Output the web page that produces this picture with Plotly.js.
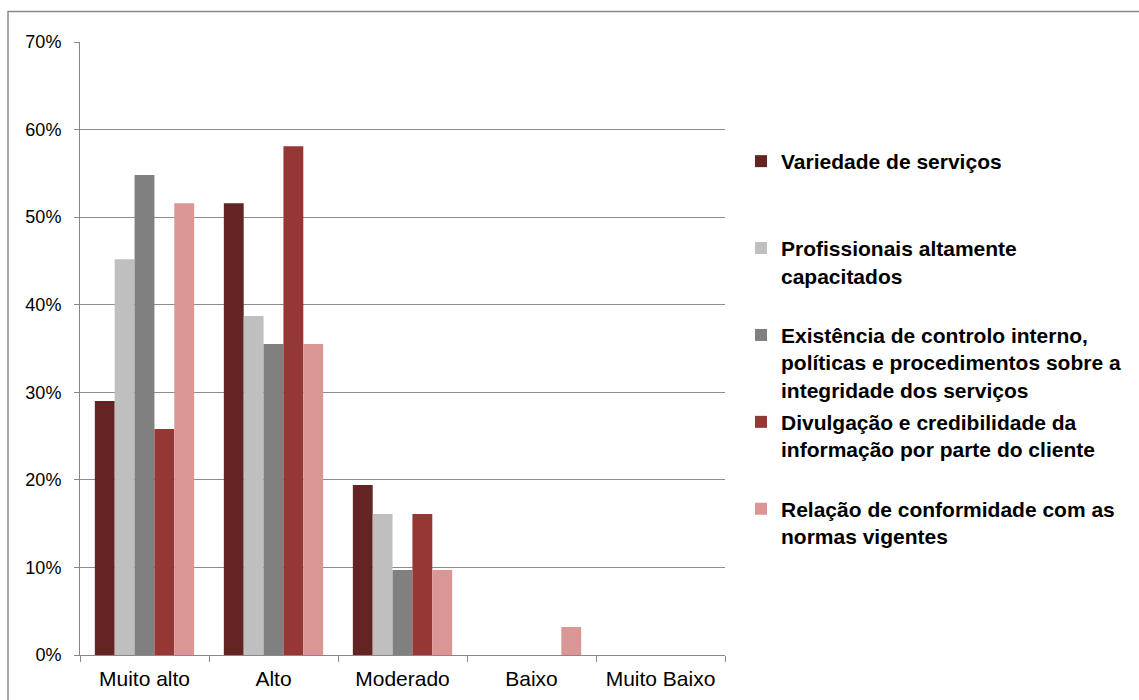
<!DOCTYPE html>
<html>
<head>
<meta charset="utf-8">
<script src="https://cdn.plot.ly/plotly-3.0.1.min.js"></script>
<style>
  html, body { margin: 0; padding: 0; background: #ffffff; }
  #chart { width: 1139px; height: 700px; }
</style>
</head>
<body>
<div id="chart"></div>
<script>
// Nível de importância atribuído a cada fator (percentagem de respostas)
const categories = ['Muito alto', 'Alto', 'Moderado', 'Baixo', 'Muito Baixo'];

const seriesNames = [
  'Variedade de serviços',
  'Profissionais altamente<br>capacitados',
  'Existência de controlo interno,<br>políticas e procedimentos sobre a<br>integridade dos serviços',
  'Divulgação e credibilidade da<br>informação por parte do cliente',
  'Relação de conformidade com as<br>normas vigentes'
];

const variedadeServicos      = [29.0, 51.6, 19.4, 0, 0];
const profissionaisCapacit   = [45.2, 38.7, 16.1, 0, 0];
const controloInterno        = [54.8, 35.5, 9.7, 0, 0];
const divulgacaoInformacao   = [25.8, 58.1, 16.1, 0, 0];
const conformidadeNormas     = [51.6, 35.5, 9.7, 3.2, 0];

const seriesValues = [variedadeServicos, profissionaisCapacit, controloInterno,
                      divulgacaoInformacao, conformidadeNormas];
const seriesColors = ['#632523', '#BFBFBF', '#808080', '#953735', '#D99694'];

const yTicks = [0, 10, 20, 30, 40, 50, 60, 70];

// pad every legend label to three lines so the entries sit at an even pitch
function padLines(label, n) {
  const count = label.split('<br>').length;
  let out = label;
  for (let i = count; i < n; i++) out += '<br> ';
  return out;
}

const traces = seriesValues.map((vals, i) => ({
  type: 'bar',
  x: categories,
  y: vals,
  name: padLines(seriesNames[i], 3),
  legendgroup: 'g' + i,
  marker: { color: seriesColors[i], line: { width: 0 } },
  hoverinfo: 'skip'
}));

const plotLeft = 80, plotRight = 725, plotTop = 42, plotBottom = 655;
const pw = plotRight - plotLeft, ph = plotBottom - plotTop;
const px = v => (v - plotLeft) / pw;
const py = v => (plotBottom - v) / ph;

const layout = {
  width: 1139,
  height: 700,
  margin: { l: plotLeft, r: 1139 - plotRight, t: plotTop, b: 700 - plotBottom, autoexpand: false },
  paper_bgcolor: '#ffffff',
  plot_bgcolor: '#ffffff',
  barmode: 'group',
  bargap: 0.23,
  bargroupgap: 0,
  font: { family: 'Liberation Sans, Arial, sans-serif', color: '#000000' },
  xaxis: {
    type: 'category',
    showline: true,
    linecolor: '#888888',
    linewidth: 1,
    ticks: 'outside',
    tickson: 'boundaries',
    ticklen: 6,
    tickcolor: '#888888',
    tickfont: { size: 21, family: 'Liberation Sans, Arial, sans-serif' },
    ticklabelstandoff: 5,
    showgrid: false,
    fixedrange: true
  },
  yaxis: {
    range: [0, 70],
    tickvals: yTicks,
    ticktext: yTicks.map(v => v + '%'),
    showline: true,
    linecolor: '#888888',
    linewidth: 1,
    ticks: 'outside',
    ticklen: 5,
    tickcolor: '#888888',
    showgrid: true,
    gridcolor: '#8c8c8c',
    gridwidth: 1,
    zeroline: false,
    tickfont: { size: 18, family: 'Liberation Sans, Arial, sans-serif' },
    ticklabelstandoff: 9,
    fixedrange: true
  },
  legend: {
    x: px(741),
    y: py(141),
    xanchor: 'left',
    yanchor: 'top',
    traceorder: 'grouped',
    tracegroupgap: 2,
    valign: 'top',
    bgcolor: 'rgba(0,0,0,0)',
    borderwidth: 0,
    font: { size: 21, family: 'Liberation Sans, Arial, sans-serif', weight: 'bold', color: '#000000' }
  },
  showlegend: true,
  shapes: [{
    type: 'rect',
    xref: 'paper', yref: 'paper',
    x0: px(8), x1: px(1300),
    y0: py(800), y1: py(11.5),
    line: { color: '#8a8a8a', width: 1.5 },
    fillcolor: 'rgba(0,0,0,0)',
    layer: 'below'
  }]
};

Plotly.newPlot('chart', traces, layout, { displayModeBar: false, staticPlot: true });
</script>
</body>
</html>
